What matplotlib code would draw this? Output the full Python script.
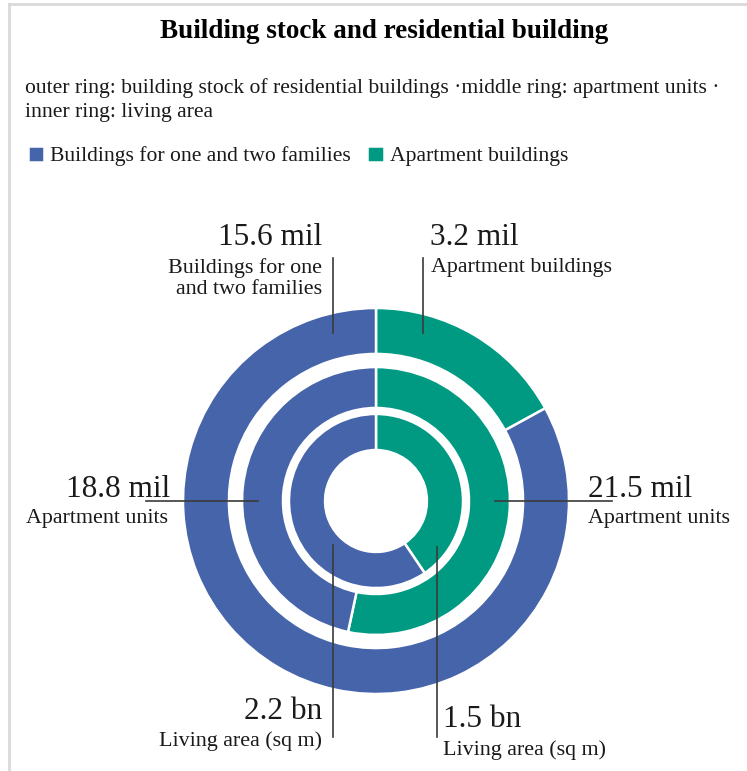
import matplotlib.pyplot as plt
from matplotlib.lines import Line2D

plt.rcParams['font.family'] = ['Liberation Serif', 'DejaVu Serif']

# Ring data: outer = building stock, middle = apartment units, inner = living area
rings = ["outer", "middle", "inner"]
one_two = [15.6, 18.8, 2.2]
apartment = [3.2, 21.5, 1.5]
units = ["mil", "mil", "bn"]
one_two_names = ["Buildings for one\nand two families", "Apartment units", "Living area (sq m)"]
apartment_names = ["Apartment buildings", "Apartment units", "Living area (sq m)"]

blue = "#4664AA"
green = "#009A82"
ink = "#1a1a1a"
lead = "#3a3a3a"

W, H = 747, 771
fig = plt.figure(figsize=(W / 100, H / 100), dpi=100)

# donut axes, centre (376, 501) px, outer radius 193 px
cx, cy, R = 376, 501, 193
ax = fig.add_axes([(cx - R) / W, (H - cy - R) / H, 2 * R / W, 2 * R / H])
radii = [(1.0, 0.762), (0.694, 0.482), (0.451, 0.264)]
handles = None
for i, (r_out, r_in) in enumerate(radii):
    wedges, _ = ax.pie([apartment[i], one_two[i]], colors=[green, blue], radius=r_out,
                       startangle=90, counterclock=False,
                       wedgeprops=dict(width=r_out - r_in, edgecolor="white", linewidth=1.8))
    if handles is None:
        handles = wedges
ax.set_xlim(-1, 1)
ax.set_ylim(-1, 1)
ax.set_aspect("equal")

# overlay in pixel coordinates for title, notes and leader labels
ov = fig.add_axes([0, 0, 1, 1])
ov.set_xlim(0, W)
ov.set_ylim(H, 0)
ov.axis("off")

# frame lines on top and left
ov.add_line(Line2D([9, 9], [4, H], color="#d9d9d9", lw=2))
ov.add_line(Line2D([9, W], [4, 4], color="#d9d9d9", lw=2))

ov.text(384, 38, "Building stock and residential building", ha="center", va="baseline",
        fontsize=19.5, fontweight="bold", color="black")
ov.text(25, 93, "outer ring: building stock of residential buildings \u00b7middle ring: apartment units \u00b7",
        ha="left", va="baseline", fontsize=15.6, color=ink)
ov.text(25, 117, "inner ring: living area", ha="left", va="baseline", fontsize=15.6, color=ink)

fig.legend([handles[1], handles[0]], ["Buildings for one and two families", "Apartment buildings"],
           loc="upper left", bbox_to_anchor=(19 / W, 1 - 137 / H), ncol=2, frameon=False,
           fontsize=15.6, handlelength=0.75, handleheight=0.75, handletextpad=0.3,
           columnspacing=0.75, borderaxespad=0, labelcolor=ink)

big = 22.5
small = 15.8

# outer ring labels
ov.text(322, 245, f"{one_two[0]} {units[0]}", ha="right", va="baseline", fontsize=big, color=ink)
ov.text(322, 258, one_two_names[0], ha="right", va="top", fontsize=small, color=ink,
        linespacing=1.15)
ov.add_line(Line2D([333, 333], [258, 333], color=lead, lw=1.2))
ov.text(430, 245, f"{apartment[0]} {units[0]}", ha="left", va="baseline", fontsize=big, color=ink)
ov.text(431, 258, apartment_names[0], ha="left", va="top", fontsize=small, color=ink)
ov.add_line(Line2D([423, 423], [258, 333], color=lead, lw=1.2))

# middle ring labels
ov.text(170, 497, f"{one_two[1]} {units[1]}", ha="right", va="baseline", fontsize=big, color=ink)
ov.text(168, 509, one_two_names[1], ha="right", va="top", fontsize=small, color=ink)
ov.add_line(Line2D([146, 258], [501, 501], color=lead, lw=1.2))
ov.text(588, 497, f"{apartment[1]} {units[1]}", ha="left", va="baseline", fontsize=big, color=ink)
ov.text(588, 509, apartment_names[1], ha="left", va="top", fontsize=small, color=ink)
ov.add_line(Line2D([495, 612], [501, 501], color=lead, lw=1.2))

# inner ring labels
ov.text(322, 719, f"{one_two[2]} {units[2]}", ha="right", va="baseline", fontsize=big, color=ink)
ov.text(322, 731, one_two_names[2], ha="right", va="top", fontsize=small, color=ink)
ov.add_line(Line2D([333, 333], [545, 737], color=lead, lw=1.2))
ov.text(443, 727, f"{apartment[2]} {units[2]}", ha="left", va="baseline", fontsize=big, color=ink)
ov.text(443, 740, apartment_names[2], ha="left", va="top", fontsize=small, color=ink)
ov.add_line(Line2D([437, 437], [547, 737], color=lead, lw=1.2))

fig.savefig("out.png", dpi=100, facecolor="white")
